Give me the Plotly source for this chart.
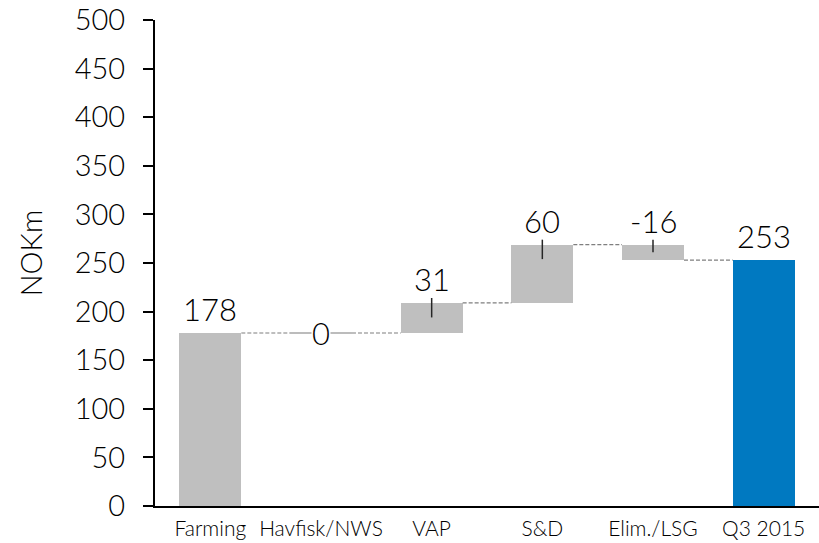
import plotly.graph_objects as go

# Bridge from Farming EBIT to the quarter total (NOKm)
categories = ["Farming", "Havfisk/NWS", "VAP", "S&D", "Elim./LSG", "Q3 2015"]
values = [178, 0, 31, 60, -16, 253]
measures = ["absolute", "relative", "relative", "relative", "relative", "total"]
y_ticks = [0, 50, 100, 150, 200, 250, 300, 350, 400, 450, 500]

GREY = "#BFBFBF"
BLUE = "#0079C1"
FONT = "Lato, 'DejaVu Sans', sans-serif"
BAR_W = 0.56

# running totals -> bar bases and heights
bases, heights, ends = [], [], []
running = 0
for v, m in zip(values, measures):
    if m == "relative":
        lo, hi = sorted([running, running + v])
        running += v
    else:
        lo, hi = 0, v
        running = v
    bases.append(lo)
    heights.append(hi - lo)
    ends.append(running)

xs = list(range(len(categories)))
colors = [BLUE if m == "total" else GREY for m in measures]

fig = go.Figure()
fig.add_trace(go.Bar(
    x=xs, y=heights, base=bases, width=BAR_W,
    marker=dict(color=colors, line=dict(width=0)),
    hoverinfo="skip",
))

# dashed connectors between consecutive bars
cx, cy = [], []
for i in range(len(values) - 1):
    cx += [i + BAR_W / 2, i + 1 - BAR_W / 2, None]
    cy += [ends[i], ends[i], None]
fig.add_trace(go.Scatter(x=cx, y=cy, mode="lines",
                         line=dict(color="#7F7F7F", width=1.2, dash="4px,2px"),
                         hoverinfo="skip"))

# zero-height steps drawn as a flat line
zx, zy = [], []
for i, h in enumerate(heights):
    if h == 0:
        zx += [i - BAR_W / 2, i + BAR_W / 2, None]
        zy += [ends[i], ends[i], None]
fig.add_trace(go.Scatter(x=zx, y=zy, mode="lines",
                         line=dict(color="#A6A6A6", width=1.5),
                         hoverinfo="skip"))

# short leader ticks under the step labels
tx, ty = [], []
for i, (v, m) in enumerate(zip(values, measures)):
    if m == "relative" and v != 0:
        top = bases[i] + heights[i]
        tx += [i, i, None]
        ty += [top + 5, top - min(15, abs(v) / 2), None]
fig.add_trace(go.Scatter(x=tx, y=ty, mode="lines",
                         line=dict(color="#262626", width=1.5),
                         hoverinfo="skip"))

# value labels
for i, v in enumerate(values):
    top = bases[i] + heights[i]
    if heights[i] == 0:
        fig.add_annotation(x=i, y=top, text=str(v), showarrow=False,
                           yanchor="middle", bgcolor="white", borderpad=0,
                           font=dict(family=FONT, size=31, color="black", weight=300))
    else:
        fig.add_annotation(x=i, y=top, text=str(v), showarrow=False,
                           yanchor="bottom", yshift=3,
                           font=dict(family=FONT, size=31, color="black", weight=300))

fig.add_annotation(text="NOKm", xref="paper", yref="paper", x=0, y=0.52,
                   xshift=-125, textangle=-90, showarrow=False,
                   xanchor="center", yanchor="middle",
                   font=dict(family=FONT, size=29, color="black", weight=300))

fig.update_layout(
    width=819, height=543,
    margin=dict(l=155, r=0, t=20, b=37),
    plot_bgcolor="white", paper_bgcolor="white",
    showlegend=False, bargap=0,
    font=dict(family=FONT, color="black"),
    xaxis=dict(
        tickmode="array", tickvals=xs, ticktext=categories,
        range=[-0.5, len(categories) - 0.5],
        showline=True, linecolor="black", linewidth=2,
        showgrid=False, zeroline=False, ticks="",
        ticklabelstandoff=3,
        tickfont=dict(family=FONT, size=21, color="black", weight=300),
    ),
    yaxis=dict(
        range=[0, 500], tickvals=y_ticks,
        showline=True, linecolor="black", linewidth=2,
        showgrid=False, zeroline=False,
        ticks="outside", ticklen=10, tickwidth=2, tickcolor="black",
        ticklabelstandoff=12,
        tickfont=dict(family=FONT, size=29, color="black", weight=300),
    ),
)

fig.write_html("out.html")
